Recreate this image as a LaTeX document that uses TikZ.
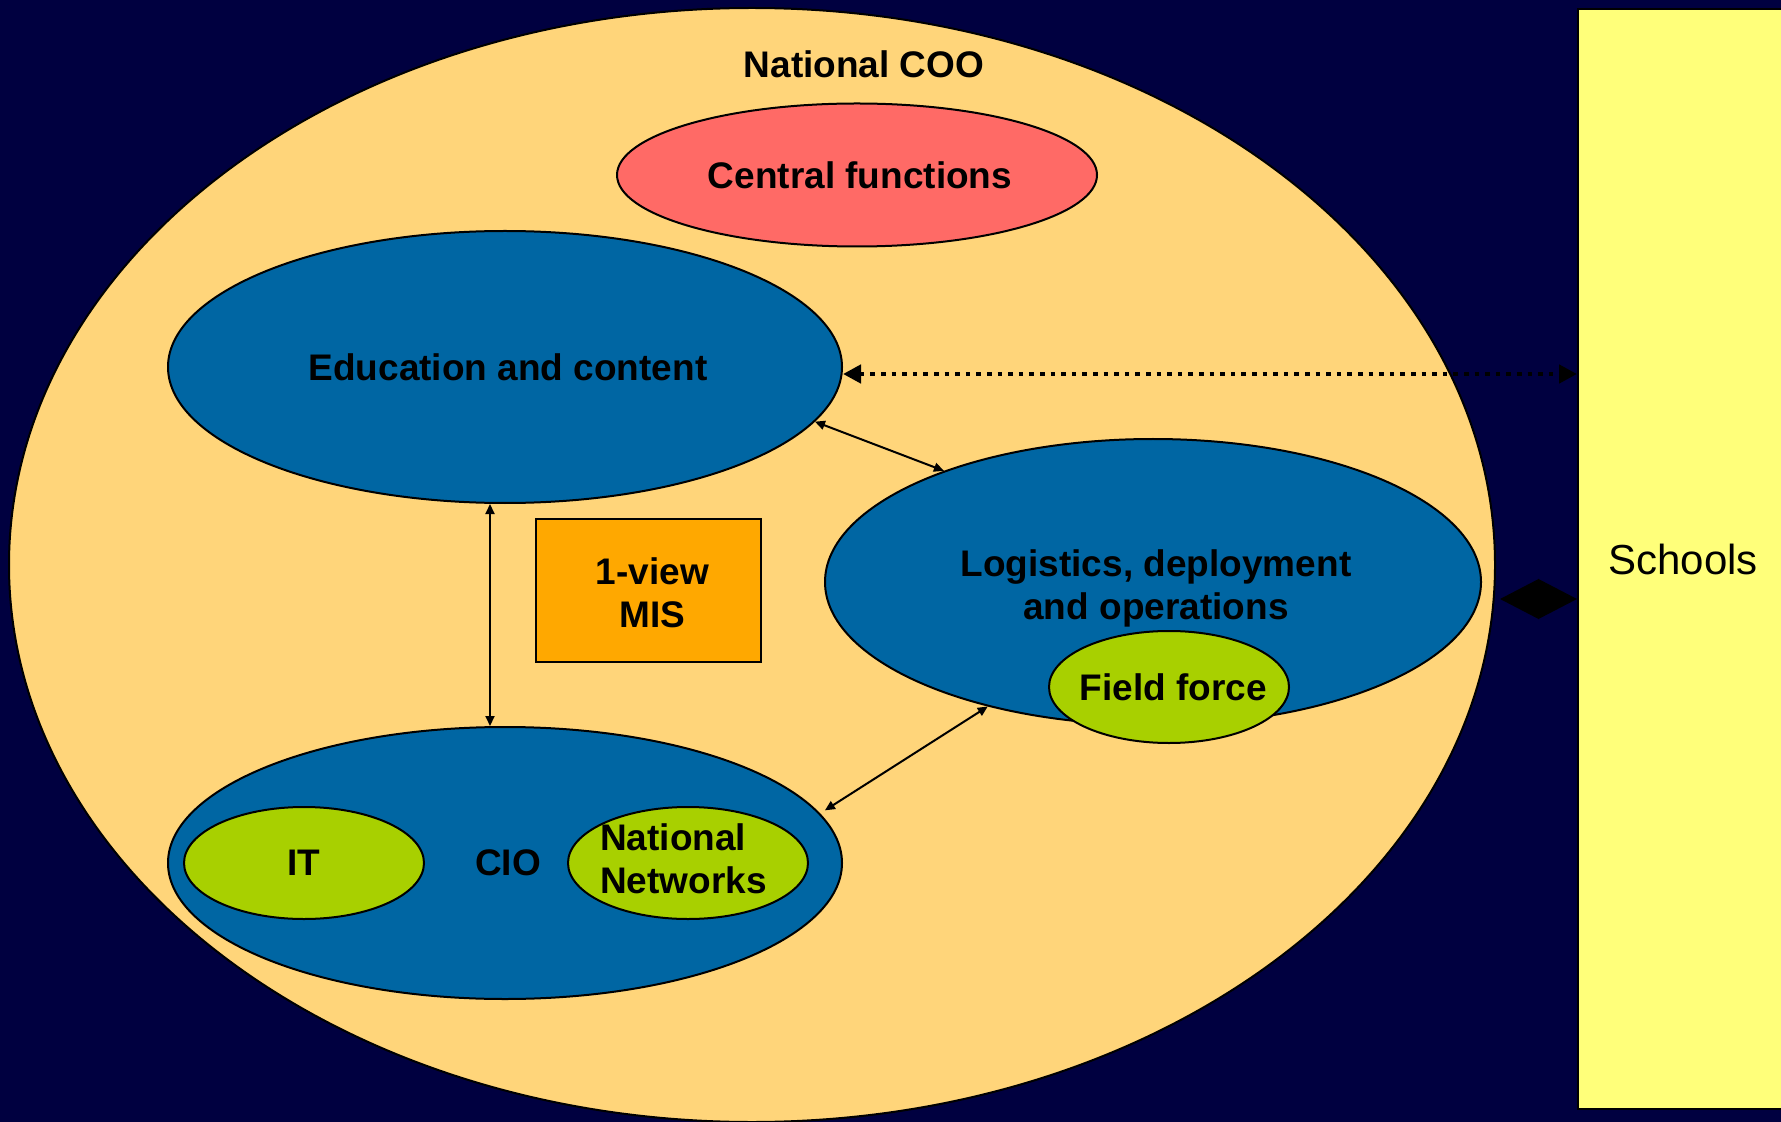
\documentclass[tikz,border=0pt]{standalone}
\usepackage{fontspec}
\setmainfont{Liberation Sans}
\usetikzlibrary{arrows.meta,shapes.geometric}
\definecolor{bgc}{HTML}{000040}
\definecolor{cooc}{HTML}{FFD57A}
\definecolor{centc}{HTML}{FF6A66}
\definecolor{bluec}{HTML}{0066A3}
\definecolor{greenc}{HTML}{A8D000}
\definecolor{misc}{HTML}{FFA800}
\definecolor{schc}{HTML}{FFFF7A}
\tikzset{
  lbl/.style={font=\fontsize{18.5}{21.5}\selectfont\bfseries},
  oval/.style={ellipse, draw=black, line width=1pt, inner sep=0pt, lbl, text=black},
  thinarrow/.style={line width=1pt, {Triangle[length=5pt,width=4.5pt]}-{Triangle[length=5pt,width=4.5pt]}},
  dotarrow/.style={line width=2.3pt, dash pattern=on 2.3pt off 3pt, {Triangle[length=9pt,width=9pt]}-{Triangle[length=9pt,width=9pt]}},
  bigarrow/.style={line width=1pt, {Triangle[length=19.5pt,width=20pt]}-{Triangle[length=19.5pt,width=20pt]}}
}
\begin{document}
\begin{tikzpicture}[x=0.5pt,y=-0.5pt]
\fill[bgc] (0,0) rectangle (1781,1122);
\useasboundingbox (0,0) rectangle (1781,1122);
% outer ellipse
\node[oval, fill=cooc, minimum width=743pt, minimum height=557pt] (coo) at (752,565) {};
\node[lbl] (cootxt) at (864,64) {National COO};
% schools
\node[draw=black, line width=1pt, fill=schc, rectangle, minimum width=111pt, minimum height=550pt, inner sep=0pt,
      font=\fontsize{21}{25}\selectfont] (schools) at (1689,559) {\hspace*{-6pt}Schools};
% inner ellipses
\node[oval, fill=centc, minimum width=240pt, minimum height=71.5pt] (central) at (857,175) {\hspace*{3pt}Central functions};
\node[oval, fill=bluec, minimum width=337pt, minimum height=136pt] (edu) at (505,367) {\hspace*{3pt}Education and content};
\node[oval, fill=bluec, minimum width=328pt, minimum height=143pt] (log) at (1153,582) {\makebox[0pt]{\hspace*{3pt}\smash{\raisebox{-7.9pt}{\begin{tabular}{@{}c@{}}Logistics, deployment\\and operations\end{tabular}}}}};
\node[oval, fill=greenc, minimum width=120pt, minimum height=56pt] (field) at (1169,687) {\makebox[0pt]{\hspace*{4.5pt}Field force}};
\node[oval, fill=bluec, minimum width=337pt, minimum height=136pt] (cio) at (505,863) {\hspace*{3pt}CIO};
\node[oval, fill=greenc, minimum width=120pt, minimum height=56pt] (it) at (304,863) {\makebox[0pt]{IT}};
\node[oval, fill=greenc, minimum width=120pt, minimum height=56pt] (nn) at (688,863) {\makebox[0pt]{\smash{\raisebox{-4.4pt}{\begin{tabular}{@{}l@{}}National\\Networks\end{tabular}}}\hspace*{4.5pt}}};
% MIS box
\node[draw=black, line width=1pt, fill=misc, rectangle, minimum width=112.5pt, minimum height=71.5pt, inner sep=0pt, lbl] (mis) at (648.5,590.5) {\makebox[0pt]{\hspace*{4pt}\smash{\raisebox{-7.65pt}{\begin{tabular}{@{}c@{}}1-view\\MIS\end{tabular}}}}};
% connectors
\draw[thinarrow] (edu.-10.6) -- (log.152.5);
\draw[thinarrow] ([xshift=-7.5pt]edu.south) -- ([xshift=-7.5pt]cio.north);
\draw[thinarrow] (log.217.6) -- ([shift={(5pt,-1pt)}]cio.10.1);
\coordinate (dA) at ([yshift=-3.5pt]edu.east);
\draw[dotarrow] (dA) -- (dA -| schools.west);
\coordinate (bA) at ([shift={(2pt,-17pt)}]coo.east);
\draw[bigarrow] (bA) -- (bA -| schools.west);
\end{tikzpicture}
\end{document}
